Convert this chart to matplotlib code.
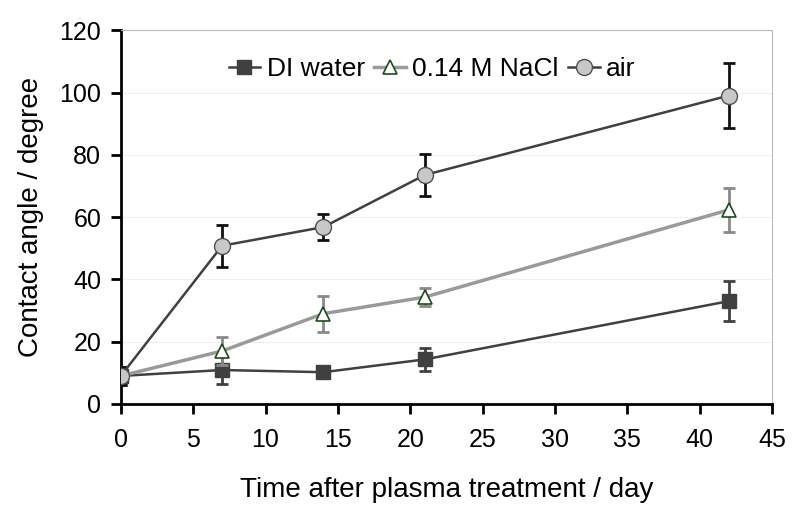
import matplotlib
matplotlib.use("Agg")
import matplotlib.pyplot as plt

plt.rcParams['font.family'] = ['Liberation Sans', 'DejaVu Sans']

days = [0, 7, 14, 21, 42]
di_water = [9, 10.9, 10.2, 14.3, 33]
di_err = [3, 4.5, 2, 3.7, 6.4]
nacl = [9, 17, 29, 34.3, 62.3]
nacl_err = [3, 4.5, 5.8, 3, 7]
air = [9, 50.8, 56.8, 73.5, 99]
air_err = [3, 6.7, 4.2, 6.6, 10.4]

fig = plt.figure(figsize=(8, 5.12), dpi=100)
ax = fig.add_axes([0.151, 0.211, 0.814, 0.730])

# error bars first, then lines so the legend shows only line + marker
ax.errorbar(days, di_water, yerr=di_err, fmt='none', ecolor='#404040',
            elinewidth=2, capsize=4, capthick=2, zorder=3)
ax.errorbar(days, nacl, yerr=nacl_err, fmt='none', ecolor='#8a8a8a',
            elinewidth=2, capsize=4, capthick=2, zorder=4)
ax.errorbar(days, air, yerr=air_err, fmt='none', ecolor='#111111',
            elinewidth=2, capsize=4, capthick=2, zorder=5)

ax.plot(days, di_water, color='#404040', marker='s', ms=10.5, mfc='#404040',
        mec='#404040', lw=1.8, label='DI water', zorder=3)
ax.plot(days, nacl, color='#9a9a9a', marker='^', ms=10.5, mfc='white',
        mec='#1f4a1f', mew=1.2, lw=2.5, label='0.14 M NaCl', zorder=4)
ax.plot(days, air, color='#404040', marker='o', ms=11.5, mfc='#c8c8c8',
        mec='#505050', mew=1, lw=1.8, label='air', zorder=5)

ax.set_xlim(0, 45)
ax.set_ylim(0, 120)
ax.set_xticks(range(0, 46, 5))
ax.set_yticks(range(0, 121, 20))
ax.grid(axis='y', color='#f0f0f0', lw=0.8)
ax.set_axisbelow(True)

for s in ['left', 'bottom']:
    ax.spines[s].set_linewidth(2)
    ax.spines[s].set_color('black')
for s in ['top', 'right']:
    ax.spines[s].set_color('#bbbbbb')
    ax.spines[s].set_linewidth(0.8)
ax.tick_params(direction='out', length=7, width=2, labelsize=18)
ax.tick_params(axis='x', pad=10)
ax.tick_params(axis='y', pad=7)

ax.set_xlabel('Time after plasma treatment / day', fontsize=20, labelpad=18)
ax.set_ylabel('Contact angle / degree', fontsize=20, labelpad=11)

ax.legend(loc='center', bbox_to_anchor=(0.478, 0.896), ncol=3, frameon=False,
          fontsize=19, handlelength=1.2, handletextpad=0.25, columnspacing=0.35)

fig.savefig('out.png', dpi=100)
